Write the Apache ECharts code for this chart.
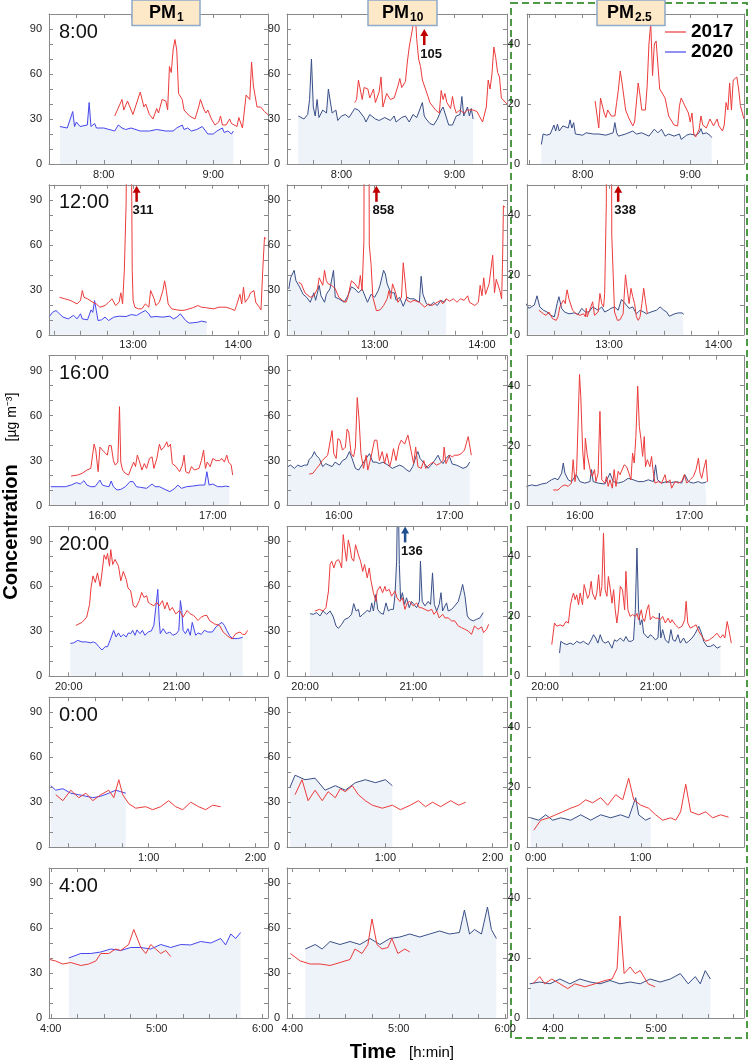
<!DOCTYPE html>
<html><head><meta charset="utf-8">
<script src="https://cdn.jsdelivr.net/npm/echarts@6/dist/echarts.min.js"></script>
<style>html,body{margin:0;padding:0;background:#fff}#c{width:750px;height:1063px}</style>
</head><body><div id="c"></div>
<script>
// ---- data: [minute of day, concentration µg m-3] ----
const pm1_0800_2017 = [[486,32],[490,43],[491,36],[493,42],[495,36],[496,33],[500,48],[502,38],[503,40],[505,33],[507,30],[509,37],[510,34],[512,43],[514,42],[515,36],[516,65],[517,61],[518,76],[519,83],[520,76],[521,47],[523,43],[524,36],[527,32],[530,30],[532,38],[533,43],[535,36],[536,34],[537,36],[539,30],[540,28],[541,26],[543,28],[544,32],[545,26],[547,26],[549,30],[550,27],[553,25],[554,31],[556,24],[558,46],[560,43],[561,68],[562,52],[563,52],[564,38],[566,38],[568,35],[570,33]];
const pm1_0800_2020 = [[456,25],[460,24],[461,24],[463,35],[464,25],[465,28],[467,25],[471,26],[472,41],[473,25],[475,27],[476,24],[480,24],[481,23],[486,22],[488,26],[490,24],[492,23],[495,24],[500,22],[505,22],[509,23],[514,22],[518,22],[520,24],[521,23],[523,26],[524,23],[526,24],[528,22],[531,23],[534,25],[535,24],[537,20],[540,20],[542,22],[545,24],[546,21],[548,22],[550,20],[551,22]];
const pm10_0800_2017 = [[487,41],[488,43],[489,56],[491,43],[492,51],[494,50],[495,44],[497,50],[498,41],[500,48],[501,58],[502,38],[504,47],[506,43],[508,44],[510,52],[511,57],[512,51],[514,55],[515,68],[516,78],[518,92],[519,105],[520,83],[521,70],[522,65],[523,56],[524,56],[526,45],[527,41],[530,36],[532,34],[533,49],[534,43],[535,47],[536,41],[538,37],[539,45],[540,38],[541,34],[543,36],[545,34],[547,36],[548,37],[550,36],[552,35],[553,36],[555,28],[557,38],[558,56],[559,50],[560,60],[561,78],[562,71],[563,61],[564,58],[565,44],[566,43],[568,40],[569,38]];
const pm10_0800_2020 = [[457,32],[460,30],[462,33],[463,43],[464,70],[465,38],[466,32],[467,43],[468,31],[470,36],[472,34],[473,50],[475,34],[476,33],[477,36],[478,29],[480,32],[482,33],[484,31],[487,37],[489,36],[492,31],[493,28],[495,33],[498,30],[500,29],[503,31],[506,29],[508,32],[509,28],[512,31],[514,32],[516,28],[518,33],[520,31],[521,30],[523,41],[524,32],[525,30],[527,27],[529,26],[531,30],[533,36],[534,38],[535,34],[537,26],[539,26],[541,32],[543,33],[544,45],[545,32],[547,38],[548,32],[549,37],[550,30]];
const pm25_0800_2017 = [[487,21],[489,12],[490,22],[492,17],[493,15.5],[494,18],[496,16],[498,16],[499,20.5],[500,25],[501,31],[502,27],[504,18],[506,15],[508,12.7],[509,14],[511,27],[512,23],[513,18],[515,18],[516,26],[517,40],[518,47],[519,29.5],[520,40],[521,41],[522,33],[523,25],[525,23],[526,22],[528,16],[531,13],[533,12.7],[534,19.4],[535,22],[537,19.4],[539,17],[540,14],[541,17],[542,10],[543,9],[545,11.6],[546,16],[547,13],[549,12],[551,15],[553,12.7],[555,15],[556,12.7],[558,11],[559,13],[560,20.5],[561,18],[562,27],[563,18],[564,28],[566,29],[567,25],[568,19.4],[570,15]];
const pm25_0800_2020 = [[457,6.5],[458,10],[460,9.6],[462,10],[464,13],[465,11],[466,13.3],[467,11],[469,12.7],[470,13.3],[472,12],[473,14.7],[474,12],[475,13.8],[476,10],[480,9.6],[482,10.4],[486,10],[489,10],[493,9.6],[497,10.4],[498,13.8],[499,10.4],[500,9.3],[504,10],[508,11],[510,10],[513,10.4],[517,9.3],[520,11.6],[522,10.4],[524,11.6],[526,9.3],[528,10],[531,9.3],[534,10],[535,8.2],[538,9.6],[540,10],[543,9.6],[545,10.4],[546,11.8],[547,10],[549,10.4],[551,9.6],[552,8.8]];

const pm1_1200_2017 = [[738,25],[741,24],[744,23],[748,20.6],[750,23],[751,29.5],[752,25],[754,24],[757,21.7],[759,20.6],[761,18.4],[764,19.5],[766,21.7],[768,24],[770,19.5],[772,21.7],[773,28],[774,20.6],[775,43],[776,87],[778,311],[779.5,43],[780,23],[781,18.4],[783,17.3],[785,17.3],[787,20.6],[788,21.7],[789,18.4],[790,29.5],[792,24],[793,19.5],[795,21.7],[797,29.5],[798,36],[799,29.5],[800,20.6],[802,17.3],[805,16.6],[808,16.2],[810,16.6],[814,18],[817,19.5],[819,18.4],[822,18],[826,17.3],[829,18.4],[830,18],[833,18.4],[836,17.3],[838,16.2],[839,19.5],[841,27],[842,20.6],[843,31.7],[844,21.7],[846,25],[847,28],[849,29.5],[850,21.7],[852,18.4],[853,16.6],[854,43],[855,65],[856,64]];
const pm1_1200_2020 = [[732,11.8],[734,15],[736,16.2],[738,14],[740,11.8],[743,10.6],[746,13],[748,10.6],[750,14],[751,10.6],[754,10],[756,16.6],[757,15],[758,22.8],[759,16.2],[760,9.5],[762,10],[764,11.8],[766,9.5],[769,11.8],[772,12.4],[776,12.2],[779,13.5],[782,12.9],[785,15],[787,16.2],[789,14],[790,11.8],[793,12.2],[797,11.8],[801,12.4],[803,10.6],[805,11.8],[807,14],[808,15],[810,9.5],[812,7.8],[814,8],[817,8.4],[819,9.1],[822,8.4]];
const pm10_1200_2017 = [[737.5,35],[739,34],[741,28],[744,25],[746,26],[748,30.6],[749,38],[751,33],[752,43],[753,36],[754,34],[756,33],[758,30.6],[760,25],[762,23],[764,21.7],[765,25],[767,36],[769,34],[771,30.6],[772,39.5],[773,29.5],[774,63],[775.5,858],[777,60],[778,47],[779,25],[781,16],[783,16.6],[785,19.5],[787,24],[788,29.5],[789,24],[790,34],[792,27],[793,21.7],[795,25],[796,48],[797,36],[798,23],[800,21.7],[802,23],[805,21.7],[806,20.6],[808,18.4],[810,20.6],[812,19.5],[815,21.7],[817,23],[818,20.6],[820,24],[822,22.4],[824,24],[826,21.7],[828,24],[830,23],[832,26],[833,21.7],[836,19.5],[838,21.7],[839,33],[840,26],[841,38],[842,27],[844,34],[845,35],[846,53],[847,28],[848,37],[850,29.5],[851,24],[851.5,47],[852,86],[853,85]];
const pm10_1200_2020 = [[732,30.6],[733,38],[735,43],[736,36],[738,32],[740,27],[742,25],[744,21.7],[746,28],[747,23],[749,33],[750,26],[752,21.7],[753,27],[755,30.6],[756,29.5],[757,43],[758,25],[760,24],[763,21.7],[765,26],[767,32],[769,30.6],[771,28],[773,30.6],[776,21.7],[778,27],[780,25],[782,29.5],[783,33],[785,43],[786,40.5],[787,34],[789,28],[791,28],[792,23],[794,25],[796,19],[798,25],[800,24],[802,24],[805,21.7],[806,39],[807,27],[809,20.6],[811,19.5],[813,21.7],[815,19.5],[817,23],[819,21.7],[820,24]];
const pm25_1200_2017 = [[741.5,8.2],[744,7],[745.5,6.5],[747,7.6],[749,5.4],[751,4.8],[752,6],[753,9.3],[755,11.6],[756,10.4],[756.5,13.3],[757,15],[758,12],[760,8.2],[762,7],[764,6.5],[766,7],[767,6],[767.5,8.8],[768,6],[770,9.3],[771,11],[772,6.5],[774,7.6],[775,13.8],[776,10.4],[777,9.3],[777.6,13.8],[777.9,24],[778.5,44],[780,338],[781.5,33],[783,7.6],[784.6,4.8],[786,5],[787.7,7],[789,20],[790,15],[791,10.4],[792,15.5],[793,12.7],[794,10.4],[795,6],[796,4.8],[797,6],[798,10.4],[799,15.5],[800,11],[801,7]];
const pm25_1200_2020 = [[734.5,10.4],[736,8.8],[739,9.9],[740.5,13],[742,9.3],[744,8.2],[746,7.6],[748,6.5],[750,6],[751.5,10.4],[752.5,12.7],[754,8.8],[755.6,7.6],[758,7],[761,7.3],[763,6.8],[765,8.8],[767,7.6],[769,7.6],[771,9.3],[774,8.2],[776,9.3],[777.6,7.6],[779.5,8.2],[781,8.8],[783,9.3],[785,8.2],[786.8,11.8],[788,11],[789.5,9.9],[791,8.8],[793,9.3],[795,7],[797,8.2],[799,7.6],[800.5,7],[803,7.6],[806,8.2],[808,9.3],[810,8.2],[811.6,7.6],[813,6.2],[816,7],[818,7.3],[820,7.3],[821,6.8]];

const pm1_1600_2017 = [[943,19.7],[946.6,20.4],[949,21.5],[951.6,23.7],[953.7,24.8],[954.6,23.7],[955.5,41],[956.4,37],[957.7,22.6],[958.7,39],[960,37],[961,36],[962.7,33.6],[963.6,40],[964.8,40],[966,30],[967,27],[968.4,29],[969.3,66],[970,29],[971,23.7],[972.5,21.5],[974.3,20.4],[975.6,24.8],[977,29],[978,26],[979,33.6],[980,30],[981.5,23.7],[982.8,28],[984,24.8],[985.6,31.4],[987,32.5],[988,24.8],[989.6,31.4],[991,41],[992,37],[993.5,39],[995,42.5],[995.8,39],[997,41],[998,28],[1000,26],[1002,22.6],[1003.5,27],[1004.4,33.6],[1005.3,22.6],[1007,21.5],[1008.4,26],[1009,27],[1010,23.7],[1012.5,24.8],[1013.8,30],[1015,37],[1016,24.8],[1017,29],[1018.6,26],[1020,31.4],[1021.8,30],[1023.6,30],[1025,31.4],[1026.3,29],[1027.6,33.6],[1028.6,29],[1030,27],[1030.8,20.4]];
const pm1_1600_2020 = [[932,12.6],[936,12.6],[940,12.6],[943,13.7],[946,15.3],[948,14.4],[950,16.6],[951.6,13.7],[953.7,12.6],[956,12.6],[958.7,17],[960,13.7],[961.8,13],[963.6,12.6],[964.8,16.4],[966,12.6],[968,10.4],[970,10.8],[972.5,12.6],[975,16],[976.7,16],[978.5,12.6],[980.6,12.2],[984,11.5],[987,14.4],[988.7,12.6],[991,12.6],[994,10.8],[996.7,9.3],[999.4,11.5],[1001,13.7],[1003,11.5],[1005.7,12.6],[1009,13],[1013,13.7],[1015.6,13.7],[1016.8,22.6],[1018,13.7],[1020,14.4],[1022.7,12.6],[1025.4,12.6],[1027,13],[1029,12.6]];
const pm10_1600_2017 = [[944,21],[946,21.5],[948,24.8],[949.5,27],[951,30],[954,33.6],[955,32.5],[956.4,50],[957.3,34.7],[958.6,31.4],[959.5,44.7],[960.7,43.6],[962,37],[963.6,39],[964.5,51],[965.4,49],[966.7,34.7],[968,32.5],[969,39],[970,72],[971,57],[972,34.7],[973.4,24.8],[974.8,33.6],[975.7,23.7],[977.5,32.5],[979.3,43.6],[980.6,43.6],[982,30],[983.5,36],[984.8,28],[986,34.7],[987.5,26],[988.4,30],[989.6,38],[991,30],[992.5,40],[993.8,43.6],[995.6,41],[997.4,47],[998.3,46],[999.2,36],[1000.5,28],[1001.6,39],[1002.8,26],[1004.6,24.8],[1006,30],[1007,24.8],[1008.8,27],[1011,29],[1012.8,27],[1014.6,28],[1016.4,30],[1017,39],[1018,28],[1020,33.6],[1021.4,32.5],[1022.7,33.6],[1024.5,33.6],[1026.3,34.7],[1028,37],[1030,46],[1030.8,46],[1031.7,33.6]];
const pm10_1600_2020 = [[932.4,26],[934,27],[936,24.8],[937.8,27],[939.6,26],[941.4,27],[943,27],[944,30.8],[945.5,32.5],[946.8,36],[947.7,33.6],[949.5,31.4],[951.3,26],[953,28],[954.6,27],[956.4,26],[958,29],[960.4,27],[962,30],[964,31.4],[965.8,36],[967.2,31.4],[969,24.8],[970.8,23.7],[973,28],[974.8,31.4],[976.6,34.7],[978.4,29],[980.2,29],[982,28],[983.9,29],[986.6,27],[989,24.8],[991,26],[992.9,27],[994.7,26],[996.5,24],[998.3,22.6],[1000,26],[1002,33.6],[1002.8,36],[1004,31.4],[1006.4,28],[1008.2,24.8],[1010,27],[1011.8,30],[1013.7,33.6],[1015,30],[1016.4,28],[1018,31.4],[1019.6,33.6],[1021.4,27.7],[1023.6,27],[1025.4,26],[1027.2,24.8],[1029.4,26],[1030.8,29]];
const pm25_1600_2017 = [[945.4,5.2],[948,5.2],[950,6.4],[951.8,6.9],[953.6,6.4],[955.4,7.5],[956.3,15.3],[957.3,8],[958.2,11.4],[959,10.8],[959.8,43.7],[960.5,36.4],[961.5,18.6],[962.4,12],[963,22.5],[964,17],[965,17.5],[966,10.8],[966.8,9.7],[968,12],[968.8,8],[970,10.8],[971,31.4],[972,8.6],[972.8,9.1],[973.7,7.5],[974.6,9.7],[975.5,6.4],[976.5,8.6],[977.8,5.8],[978.8,12],[979.8,6.4],[981,11.4],[982,10.3],[983,10.8],[984.3,13.6],[985.6,13],[986.9,10.8],[988,8.6],[988.9,17.5],[989.8,14.2],[990.7,23],[991.7,39.8],[992.6,26.4],[993.5,22],[994.4,16.4],[995.3,23],[996,13],[997,15.3],[998.4,13],[999.3,16.4],[1000.3,10.8],[1001.2,7.5],[1003,8],[1004.8,7.5],[1006.7,10.3],[1007.6,7.5],[1009.4,8.6],[1010.3,5.8],[1012.2,8],[1014,7.5],[1015.8,8],[1017.3,10.3],[1018.6,7.5],[1020.4,8.6],[1022.2,9.7],[1023.7,12],[1025,15.8],[1025.9,10.8],[1026.8,9.1],[1028,12.5],[1029.2,15.3],[1030,8]];
const pm25_1600_2020 = [[930.7,6.4],[933.5,6.9],[936,6.6],[939,7.2],[941.7,7.5],[944.4,8.6],[946.3,9.1],[948,8.6],[950,10.8],[950.9,14.2],[951.8,10.8],[953.6,8.6],[955.4,8],[958,10.3],[960,8],[962.7,7.5],[965.5,8],[966.4,12],[967.3,8],[970,7.5],[973.7,7.2],[976.5,10.8],[978.3,8],[981,7.5],[983.8,8],[986.5,9.1],[989.3,8.6],[992,8],[994.8,8],[997.5,8.6],[1000.3,8],[1001.5,13.6],[1002.6,8.6],[1004.8,7.5],[1007.6,8],[1010.3,7.7],[1013,8],[1015.8,7.5],[1017.6,10.3],[1019.5,8],[1022.2,7.5],[1025,8],[1026.8,7.5],[1028.6,7.7],[1029.5,8]];

const pm1_2000_2017 = [[1204,34],[1207.4,36],[1210,39.5],[1211.6,48],[1212.4,59],[1213.5,67],[1214.8,62.6],[1216,69],[1217.5,60],[1218.5,69],[1219.7,81],[1220.8,78],[1221.6,82],[1222.7,73.5],[1223.4,84.5],[1224.5,74.6],[1225.8,78],[1226.7,79],[1227.7,73.5],[1229,63.7],[1230.4,70],[1232,64.7],[1233,59],[1234.5,57],[1236,47],[1237.4,46],[1239.3,50.5],[1240.6,56],[1241.9,52.7],[1243.4,53.8],[1244.3,49.4],[1245.6,48.3],[1247.4,47],[1249,49.4],[1250.4,47],[1252.2,50.5],[1253.5,45],[1254.8,49.4],[1256.3,43.9],[1257.7,46],[1259.6,41.7],[1261.8,43.9],[1263.7,39.5],[1265.9,43.9],[1267.7,41.7],[1269.6,40.6],[1272,37.3],[1273.8,39.5],[1275.6,40.6],[1277,40.6],[1278.4,37.3],[1281.2,35],[1284,34],[1286,29.6],[1288.6,26.8],[1291,25],[1293,28.5],[1295.4,29.6],[1296.9,28],[1298.3,28],[1299.6,30.7]];
const pm1_2000_2020 = [[1200.9,22],[1202.8,22.4],[1205,24],[1207.4,23],[1209.8,23],[1212,22.4],[1213.8,23],[1215.3,22],[1216.6,20],[1218.5,17.6],[1220.3,19.8],[1221.6,19.8],[1223,24],[1225,30.7],[1226.4,26.3],[1227.7,29],[1229,26.3],[1230.4,28],[1232,26.3],[1233.2,29],[1234.5,28.5],[1235.6,30.7],[1236.9,27.4],[1238,31],[1239.7,28.5],[1241,30.7],[1242.4,27.4],[1244.3,29.6],[1246,30.3],[1247.4,34],[1248.5,46],[1249.6,58],[1250.4,37.3],[1251,28.5],[1252.6,31.8],[1254.4,28.5],[1256.3,29.6],[1258,27.4],[1260,28.5],[1261.3,30.7],[1262.2,50.5],[1263,43.9],[1263.7,30.7],[1265,28.5],[1266.4,31.8],[1267.7,27.4],[1268.8,36],[1269.7,37.3],[1270.7,27.4],[1272,29],[1273.8,28],[1275.6,30.7],[1277.5,29.6],[1280,29.6],[1282,33],[1284,35],[1285.4,36],[1286.7,34],[1288,30.7],[1289.5,27.4],[1291.3,25.2],[1294,25.2],[1296.9,26]];
const pm10_2000_2017 = [[1205.5,43.6],[1208,44.7],[1210,43.6],[1211.6,45.8],[1213,56.9],[1213.9,74.6],[1214.8,76.8],[1216,72.3],[1217.2,76.8],[1218.5,77.9],[1219.4,75.7],[1220.3,72.3],[1221.2,94.5],[1222,85.6],[1223,76.8],[1224,91],[1225,85.6],[1225.8,79],[1227,76.8],[1228,87.8],[1229.6,81],[1230.8,76.8],[1232,70],[1233,74.6],[1234.5,65.7],[1235.6,72.3],[1236.6,63.5],[1237.9,55.8],[1239.3,50],[1240,56.9],[1241.6,60],[1243,55.8],[1244.3,60],[1245,56.9],[1246.7,58],[1248,53.5],[1249.9,56.9],[1251,52.4],[1252.6,50],[1254,52.4],[1255.4,44.7],[1256.7,49],[1258,50],[1260,47],[1261.9,49],[1263.4,45.8],[1264.6,45.8],[1266.5,44.7],[1268.3,43.6],[1270.2,44.7],[1271.5,41.4],[1273,43.6],[1274.4,39],[1276.3,41.4],[1277.6,39],[1279.4,39],[1281.3,37],[1283,37],[1285,33.6],[1286.8,32.5],[1288.6,31.4],[1290.5,30.3],[1292.3,28],[1294,33.6],[1296,31.4],[1297.9,33],[1299,29.2],[1300.7,31.4],[1301.8,34.7]];
const pm10_2000_2020 = [[1202.8,41.8],[1204.6,41.4],[1206.5,42.5],[1208.3,40.3],[1210,43.6],[1212,41.4],[1213.9,43.6],[1215.7,39.6],[1217.2,33.6],[1218.5,32],[1220.3,34.7],[1222,38],[1224,39],[1225.8,41.4],[1227,48.5],[1228.3,43.6],[1229.6,44.7],[1230.5,39.6],[1232,41.4],[1233.2,42.5],[1234.5,44],[1236,43],[1237,49],[1237.9,43.6],[1239.3,54.6],[1240.3,44.7],[1241.6,42.5],[1243.4,41.4],[1244.9,49],[1246.2,43.6],[1247.5,44.7],[1249,44.7],[1249.9,54.6],[1250.8,76.8],[1251.5,136],[1252.3,74.6],[1253,51.3],[1254,55.8],[1255.2,48],[1256.3,52.4],[1257.8,45.8],[1259,50],[1260.4,48],[1261.9,45.8],[1263.4,50],[1264,76.8],[1265,50],[1266.5,47],[1268.3,50],[1269.6,48],[1270.7,69],[1271.7,48],[1273,43.6],[1274.4,48],[1275.4,55.8],[1276.3,43.6],[1277.6,47],[1278.5,49],[1279.4,43.6],[1281.3,44.7],[1283,47],[1285,50],[1286.3,55.8],[1287.4,61.3],[1288.7,53.5],[1290,40.3],[1291.4,38],[1293.3,37],[1295,38],[1297,39],[1298.8,42.5]];
const pm25_2000_2017 = [[1203.7,10.6],[1205.2,17.8],[1206.5,16.7],[1208.3,17.2],[1210,16.7],[1211.5,18.3],[1212.9,17.8],[1213.9,23.3],[1214.8,26],[1215.7,27.8],[1216.6,25.6],[1217.5,27.2],[1218.5,23.9],[1219.4,27.8],[1220.7,23.9],[1221.6,30.6],[1222.5,30],[1223.5,26],[1224.4,27.2],[1225.5,31.7],[1226.2,27.8],[1227.7,25.6],[1228.6,27.8],[1229.6,33.9],[1230.5,26.7],[1231.4,30],[1232.3,47.8],[1233.2,28.9],[1234.2,26.7],[1235,33.3],[1236,29.4],[1237,24.4],[1237.9,28.9],[1238.8,22.2],[1239.7,17.8],[1240.6,22.2],[1241.6,30],[1242.8,28.9],[1244,22.2],[1244.7,35],[1245.8,22.2],[1247,20],[1248.4,20.6],[1249.9,20],[1250.8,21],[1251.7,18.9],[1253.2,22.2],[1254,19.4],[1255,18.3],[1256.3,22.2],[1257.3,23.9],[1258.2,18.9],[1259.5,20],[1261,19.4],[1262.4,19.4],[1263.7,18.9],[1265,20],[1266.5,17.8],[1268,19.4],[1269.3,17.8],[1270.2,18.9],[1272,17.2],[1273.9,16.1],[1275.7,16.7],[1277.2,18.9],[1278,25],[1278.9,17.8],[1280.3,16.1],[1282.2,16.7],[1283.5,17.2],[1285,15],[1286.8,13.3],[1288.7,11.7],[1290.9,12.2],[1293.3,13.3],[1295,14.4],[1297,12.8],[1298.3,13.9],[1299.4,12.8],[1300.7,18.3],[1301.6,15.6],[1303,11.1]];
const pm25_2000_2020 = [[1208,7.8],[1208.7,11.7],[1210,11.1],[1212,10.6],[1213.9,11.1],[1215.7,10.6],[1217.5,11.7],[1219.4,11.1],[1221.2,11.7],[1222.5,11.1],[1224,10.6],[1225.5,12.2],[1226.8,13.9],[1228,12.8],[1229.2,11.1],[1230.5,13.9],[1231.8,11.7],[1233.2,11.1],[1235,11.7],[1237,9.4],[1238.4,12.2],[1239.7,11.7],[1241.6,12.8],[1243.4,11.7],[1244.7,13.3],[1246.2,11.7],[1247.6,11.7],[1248.9,12.2],[1249.9,22.2],[1250.8,42.8],[1251.7,22.2],[1252.6,17.2],[1253.6,18.9],[1254.5,14.4],[1255.4,13.9],[1256.9,12.8],[1258.2,13.9],[1259.5,13.3],[1261,12.2],[1262.4,12.8],[1263.2,21.1],[1264,12.8],[1265,15.6],[1266.5,12.2],[1268.3,11.1],[1269.6,15.6],[1270.7,12.2],[1272,11.7],[1273.5,13.9],[1274.8,11.1],[1276.6,12.8],[1278,11.1],[1279.4,11.7],[1281.3,12.8],[1283.1,14.4],[1285,16.7],[1285.9,16.1],[1286.8,13.9],[1287.7,11.7],[1289.6,10],[1291.4,10],[1293.3,10.6],[1295.1,9.4],[1297,10]];

const pm1_0000_2017 = [[7.8,35],[11.8,31],[16.2,38],[20.7,33],[24.7,36],[28.6,31],[33.1,35],[37.6,38],[40.4,33],[43.2,45],[45.4,35],[48.8,29],[52.7,26],[58.3,27],[62.2,25],[66.7,27],[71.2,31],[75.1,27],[79.1,25],[83.6,30],[88,27],[92,25],[95.9,28],[100.4,27]];
const pm1_0000_2020 = [[5,41],[7.8,38],[11.8,39],[16.2,36],[20.7,35],[24.7,34],[28.6,33],[33.1,34],[37.6,36],[41.5,38],[44.3,37],[47.1,36]];
const pm10_0000_2017 = [[9.5,35],[13.4,45],[16.8,31],[20.7,38],[24.7,31],[28,37],[32,33],[34.8,39],[37.6,37],[41.5,41],[44.9,35],[48.8,31],[52.7,28],[58.3,26],[63.9,28],[68.4,25],[74,28],[78.5,31],[82.4,27],[86.4,30],[90.9,27],[96.5,31],[101,28],[104.9,30]];
const pm10_0000_2020 = [[6.7,40],[9.5,48],[15.1,45],[20.7,46],[26.3,38],[32,41],[37.6,38],[43.2,43],[48.8,45],[54.4,43],[60,45],[63.9,41]];
const pm25_0000_2017 = [[-1.1,5.7],[2.9,9],[7.4,9.8],[11.4,10.8],[15.4,11.8],[20,13],[24.6,14],[28.6,15.8],[32.5,14.8],[37.1,16.5],[41.1,14],[45.7,17.5],[49.7,15.8],[53.1,23],[56,15.8],[60,14],[64.5,13],[68.5,10.8],[72.5,9],[77.1,9.8],[80,9],[82.8,11.8],[85.7,21],[88.5,11.8],[93.1,10.8],[97.1,11.8],[101.1,9.8],[105.6,10.8],[110.2,10]];
const pm25_0000_2020 = [[-2.9,9.8],[1.7,9],[5.7,10.8],[9.7,9],[14.3,9.8],[20,9],[25.7,10.8],[31.4,9],[37.1,10.8],[42.8,9.8],[48.5,10.8],[53.1,9.8],[57.1,16.5],[58.8,10.8],[62.8,9],[65.7,9.8]];

const pm1_0400_2017 = [[239.4,39],[242.8,38],[246.8,36],[251.3,37],[257,35],[261.5,36],[265.5,38],[268.3,43],[272.8,43],[276.8,46],[279.6,45],[284.1,49],[287,59],[291,47],[293.8,43],[296.6,49],[299.4,46],[302.3,43],[305.1,45],[307.9,41]];
const pm1_0400_2020 = [[250.2,40],[257,43],[262.6,43],[268.3,44],[274,46],[279.6,45],[285.3,47],[291,47],[296.6,46],[302.3,49],[307.9,47],[313.6,49],[319.2,48.7],[324.9,51],[330.6,50],[336.2,53],[339,48.7],[341.9,56],[344.7,53],[347.5,57]];
const pm10_0400_2017 = [[238.9,43],[244.5,38],[250.1,36],[255.7,36],[261.3,35],[266.9,37],[272.5,39],[275.3,46],[279.3,43],[282.6,49],[284.9,66],[287.7,49],[290.5,46],[293.9,47],[296.1,53],[299.5,43],[303.4,46],[306.2,44]];
const pm10_0400_2020 = [[247.3,46],[252.9,49],[256.8,46],[261.3,51],[266.9,49],[272.5,51],[278.1,49],[283.8,53],[289.4,49],[295,53],[300.6,54],[306.2,56],[311.8,54],[317.4,56],[323,58],[328.6,56],[334.2,57],[337,72],[339.9,56],[342.7,59],[346.6,56],[350,74],[352.2,59],[355,53]];
const pm25_0400_2017 = [[228.4,11.4],[232.4,13.8],[235.3,11.4],[239.4,13],[244.1,11.4],[248.7,9.8],[252.8,11.4],[258.6,10.4],[264.5,11.4],[270.3,12.5],[274.4,13],[277.3,16.5],[279,34],[281.4,14.8],[284.9,17],[287.8,14.8],[290.7,15.8],[295.3,11.4],[299.4,10.4]];
const pm25_0400_2020 = [[226.6,11.4],[232.4,12],[238.3,11.4],[244.1,13],[249.9,11.4],[255.7,13],[261.6,12],[267.4,11.4],[273.2,12.5],[279,11.4],[284.9,12],[290.7,11.4],[296.5,13],[302.3,12],[308.2,13],[314,14.8],[318.6,11.4],[322.7,13.8],[325.6,11.4],[328.5,15.8],[331.5,13]];

// ---- structure ----
const rowLabels = ['8:00','12:00','16:00','20:00','0:00','4:00'];
const colTitles = [['PM','1'],['PM','10'],['PM','2.5']];
const legendNames = ['2017','2020'];
const yMax = [100,100,50];
const yLabelStep = [30,30,20];
const xRanges = [
  [[450,570],[451,568],[449,570]],
  [[732,857],[731,854],[735,854]],
  [[931,1050],[932,1051],[931,1050]],
  [[1189,1311],[1190,1312],[1190,1310]],
  [[4,127],[5,128],[-5,119]],
  [[239,363],[237,361],[225,351]]
];
const data2017 = [
  [pm1_0800_2017, pm10_0800_2017, pm25_0800_2017],
  [pm1_1200_2017, pm10_1200_2017, pm25_1200_2017],
  [pm1_1600_2017, pm10_1600_2017, pm25_1600_2017],
  [pm1_2000_2017, pm10_2000_2017, pm25_2000_2017],
  [pm1_0000_2017, pm10_0000_2017, pm25_0000_2017],
  [pm1_0400_2017, pm10_0400_2017, pm25_0400_2017]
];
const data2020 = [
  [pm1_0800_2020, pm10_0800_2020, pm25_0800_2020],
  [pm1_1200_2020, pm10_1200_2020, pm25_1200_2020],
  [pm1_1600_2020, pm10_1600_2020, pm25_1600_2020],
  [pm1_2000_2020, pm10_2000_2020, pm25_2000_2020],
  [pm1_0000_2020, pm10_0000_2020, pm25_0000_2020],
  [pm1_0400_2020, pm10_0400_2020, pm25_0400_2020]
];
// off-scale peaks: [row, col, minute, label, year]
const peakNotes = [[0,1,524,'105','2017'],[1,0,782,'311','2017'],[1,1,781,'858','2017'],[1,2,785,'338','2017'],[3,1,1255.5,'136','2020']];

// ---- layout & style ----
const FONT = '"Liberation Sans", Arial, sans-serif';
const colLeft = [49, 287, 527], colWidth = [219, 220, 217];
const rowTop = [14, 184.8, 355.6, 526.4, 697.2, 868], PANEL_H = 150;
const FRAME = '#8a8a8a', RED = '#ec3b3b', BLUE1 = '#4646ee', NAVY = '#3a4f88', AREA = '#edf3f8';

function ticks(min, max, step) { const a = []; for (let v = Math.ceil(min / step) * step; v <= max; v += step) a.push(v); return a; }
function fmtTime(v) { const m = ((Math.round(v) % 1440) + 1440) % 1440; return Math.floor(m / 60) + ':' + String(m % 60).padStart(2, '0'); }

const chart = echarts.init(document.getElementById('c'), null, {width: 750, height: 1063});
const grid = [], xAxis = [], yAxis = [], series = [];
for (let r = 0; r < 6; r++) {
  for (let c = 0; c < 3; c++) {
    const p = r * 3 + c;
    const [xmin, xmax] = xRanges[r][c];
    grid.push({left: colLeft[c], top: rowTop[r], width: colWidth[c], height: PANEL_H});
    const baseX = {gridIndex: p, type: 'value', min: xmin, max: xmax, z: 10, splitLine: {show: false},
      axisLine: {show: true, onZero: false, lineStyle: {color: FRAME, width: 1}},
      axisTick: {show: true, inside: true, length: 4, customValues: ticks(xmin, xmax, 15), lineStyle: {color: FRAME}}};
    xAxis.push(Object.assign({}, baseX, {position: 'bottom',
      axisLabel: {show: true, customValues: ticks(xmin, xmax, 60), formatter: fmtTime, fontSize: 11, color: '#222', margin: 5, fontFamily: FONT}}));
    xAxis.push(Object.assign({}, baseX, {position: 'top', axisLabel: {show: false}}));
    const baseY = {gridIndex: p, type: 'value', min: 0, max: yMax[c], interval: 10, z: 10, splitLine: {show: false},
      axisLine: {show: true, onZero: false, lineStyle: {color: FRAME, width: 1}},
      axisTick: {show: true, inside: true, length: 4, lineStyle: {color: FRAME}}};
    const step = yLabelStep[c];
    yAxis.push(Object.assign({}, baseY, {position: 'left',
      axisLabel: {formatter: v => (v % step === 0 ? String(v) : ''), fontSize: 11, color: '#222', margin: 7, fontFamily: FONT}}));
    yAxis.push(Object.assign({}, baseY, {position: 'right', axisLabel: {show: false}}));
    series.push({name: legendNames[1], type: 'line', xAxisIndex: 2 * p, yAxisIndex: 2 * p, data: data2020[r][c],
      showSymbol: false, symbol: 'none', z: 2, lineStyle: {color: c === 0 ? BLUE1 : NAVY, width: 1},
      areaStyle: {color: AREA, opacity: 1}});
    series.push({name: legendNames[0], type: 'line', xAxisIndex: 2 * p, yAxisIndex: 2 * p, data: data2017[r][c],
      showSymbol: false, symbol: 'none', z: 3, lineStyle: {color: RED, width: 1}});
  }
}

const graphic = [];
// dashed box around PM2.5 column
graphic.push({type: 'rect', shape: {x: 511, y: 3, width: 236, height: 1035}, style: {fill: 'none', stroke: '#4f9a45', lineWidth: 2, lineDash: [7, 4]}, z: 1});
// column headers
const hdrBox = [[132, 68], [368, 69], [597, 68]];
colTitles.forEach((t, c) => {
  const [bx, bw] = hdrBox[c];
  graphic.push({type: 'rect', shape: {x: bx, y: 0, width: bw, height: 25.5}, style: {fill: '#fde9c8', stroke: '#8fa9c9', lineWidth: 1.5}, z: 20});
  const pmW = 27, subW = t[1].length * 7;
  const x0 = bx + (bw - pmW - subW) / 2;
  graphic.push({type: 'text', x: x0, y: 13.5, z: 21, style: {text: t[0], font: 'bold 18px ' + FONT, fill: '#000', verticalAlign: 'middle'}});
  graphic.push({type: 'text', x: x0 + pmW + 1, y: 18, z: 21, style: {text: t[1], font: 'bold 12px ' + FONT, fill: '#000', verticalAlign: 'middle'}});
});
// time-of-day labels
rowLabels.forEach((lab, r) => {
  graphic.push({type: 'text', x: colLeft[0] + 10, y: rowTop[r] + 18, z: 15, style: {text: lab, font: '20px ' + FONT, fill: '#111', verticalAlign: 'middle'}});
});
// legend
[[RED, legendNames[0], 32], [BLUE1, legendNames[1], 52]].forEach(([col, name, y]) => {
  graphic.push({type: 'line', shape: {x1: 665, y1: y, x2: 686, y2: y}, style: {stroke: col, lineWidth: 1.2}, z: 15});
  graphic.push({type: 'text', x: 691, y: y, z: 15, style: {text: name, font: 'bold 19px ' + FONT, fill: '#000', verticalAlign: 'middle'}});
});
// axis titles
graphic.push({type: 'text', x: 11, y: 532, rotation: Math.PI / 2, style: {text: 'Concentration', font: 'bold 20px ' + FONT, fill: '#000', align: 'center', verticalAlign: 'middle'}});
graphic.push({type: 'text', x: 12, y: 417, rotation: Math.PI / 2, style: {text: '[µg m⁻³]', font: '14px ' + FONT, fill: '#000', align: 'center', verticalAlign: 'middle'}});
graphic.push({type: 'text', x: 373, y: 1052, style: {text: 'Time', font: 'bold 20px ' + FONT, fill: '#000', align: 'center', verticalAlign: 'middle'}});
graphic.push({type: 'text', x: 409, y: 1053, style: {text: '[h:min]', font: '15px ' + FONT, fill: '#000', align: 'left', verticalAlign: 'middle'}});

chart.setOption({animation: false, backgroundColor: '#fff', grid, xAxis, yAxis, series, graphic});

// arrows for off-scale peaks, positioned through the axes
peakNotes.forEach(([r, c, t, lab, yr]) => {
  const p = r * 3 + c;
  const x = chart.convertToPixel({xAxisIndex: 2 * p}, t);
  const top = rowTop[r] + (r === 0 ? 15 : (r === 3 ? 0 : 1));
  const col = yr === '2017' ? '#c00000' : '#1f4f8f';
  graphic.push({type: 'polygon', shape: {points: [[x, top], [x - 4, top + 7], [x + 4, top + 7]]}, style: {fill: col}, z: 16});
  graphic.push({type: 'line', shape: {x1: x, y1: top + 6, x2: x, y2: top + 16}, style: {stroke: col, lineWidth: 2.5}, z: 16});
  graphic.push({type: 'text', x: x - 4, y: top + 25, z: 16, style: {text: lab, font: 'bold 13px ' + FONT, fill: '#111', verticalAlign: 'middle'}});
});
chart.setOption({graphic});
</script>
</body></html>
